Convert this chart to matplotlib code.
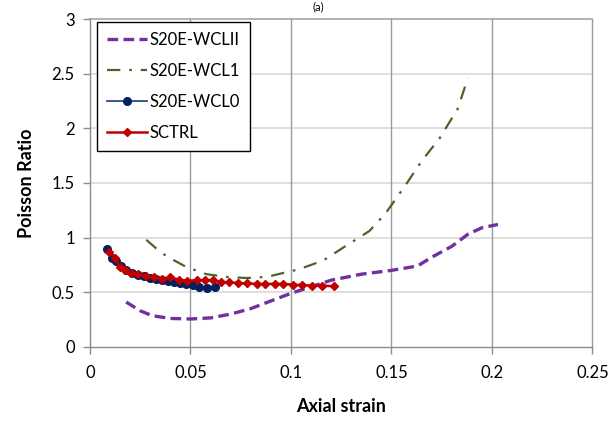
import matplotlib
matplotlib.use("Agg")
import matplotlib.pyplot as plt

plt.rcParams['font.family'] = ['Lato', 'DejaVu Sans']

wcl2_x = [0.018, 0.025, 0.031, 0.040, 0.050, 0.060, 0.070, 0.080, 0.090, 0.100, 0.110,
          0.120, 0.135, 0.150, 0.163, 0.170, 0.180, 0.188, 0.195, 0.203]
wcl2_y = [0.41, 0.33, 0.285, 0.26, 0.255, 0.265, 0.30, 0.35, 0.42, 0.49, 0.55,
          0.61, 0.665, 0.70, 0.74, 0.82, 0.92, 1.03, 1.09, 1.12]

wcl1_x = [0.028, 0.033, 0.038, 0.048, 0.058, 0.068, 0.078, 0.088, 0.097, 0.104, 0.110,
          0.116, 0.127, 0.139, 0.147, 0.157, 0.165, 0.174, 0.183, 0.188]
wcl1_y = [0.98, 0.90, 0.83, 0.73, 0.665, 0.64, 0.63, 0.64, 0.68, 0.71, 0.75,
          0.79, 0.92, 1.06, 1.22, 1.48, 1.70, 1.91, 2.18, 2.46]

wcl0_x = [0.0085, 0.011, 0.013, 0.0155, 0.018, 0.021, 0.024, 0.027, 0.030, 0.033,
          0.036, 0.039, 0.042, 0.045, 0.048, 0.051, 0.054, 0.058, 0.062]
wcl0_y = [0.90, 0.81, 0.79, 0.74, 0.70, 0.68, 0.66, 0.65, 0.63, 0.62,
          0.61, 0.60, 0.59, 0.585, 0.575, 0.565, 0.55, 0.54, 0.545]

ctrl_x = [0.0095, 0.0125, 0.015, 0.0175, 0.0205, 0.024, 0.028, 0.032, 0.036, 0.040,
          0.0445, 0.0485, 0.053, 0.057, 0.061, 0.065, 0.069, 0.0735, 0.078, 0.083,
          0.087, 0.092, 0.096, 0.101, 0.1055, 0.1105, 0.1155, 0.1215]
ctrl_y = [0.87, 0.81, 0.73, 0.70, 0.68, 0.665, 0.65, 0.635, 0.625, 0.635,
          0.615, 0.605, 0.61, 0.61, 0.61, 0.595, 0.59, 0.585, 0.58, 0.576,
          0.576, 0.576, 0.576, 0.57, 0.565, 0.56, 0.56, 0.555]

x_ticks = [0, 0.05, 0.1, 0.15, 0.2, 0.25]
x_labels = ['0', '0.05', '0.1', '0.15', '0.2', '0.25']
y_ticks = [0, 0.5, 1, 1.5, 2, 2.5, 3]
y_labels = ['0', '0.5', '1', '1.5', '2', '2.5', '3']

fig = plt.figure(figsize=(6.09, 4.23), dpi=100)
ax = fig.add_axes([0.1478, 0.180, 0.825, 0.775])

ax.plot(wcl2_x, wcl2_y, color='#7030A0', lw=2.4, dashes=(3.2, 1.6), label='S20E-WCLII', zorder=3)
ax.plot(wcl1_x, wcl1_y, color='#4F6228', lw=1.6, dashes=(6, 4, 1.2, 4), label='S20E-WCL1', zorder=3)
ax.plot(wcl0_x, wcl0_y, color='#2A4C8C', lw=1.3, marker='o', markersize=5.5,
        markerfacecolor='#002060', markeredgecolor='#002060', label='S20E-WCL0', zorder=4)
ax.plot(ctrl_x, ctrl_y, color='#C00000', lw=1.8, marker='D', markersize=4.5,
        markerfacecolor='#C00000', markeredgecolor='#C00000', label='SCTRL', zorder=5)

ax.set_xlim(0, 0.25)
ax.set_ylim(0, 3)
ax.set_xticks(x_ticks)
ax.set_xticklabels(x_labels)
ax.set_yticks(y_ticks)
ax.set_yticklabels(y_labels)

for y in y_ticks[1:-1]:
    ax.axhline(y, color='#d9d9d9', lw=1.2, zorder=1)
ax.axhline(3, color='#a6a6a6', lw=1.2, zorder=1, clip_on=False)
for x in x_ticks[1:]:
    ax.axvline(x, color='#9a9a9a', lw=1.0, zorder=1, clip_on=False)

for s in ['top', 'right']:
    ax.spines[s].set_visible(False)
for s in ['left', 'bottom']:
    ax.spines[s].set_color('#8c8c8c')
    ax.spines[s].set_linewidth(1.0)

ax.tick_params(axis='both', direction='out', length=5, color='#8c8c8c', width=1.0,
               labelsize=12, labelcolor='black', pad=6)
ax.tick_params(axis='x', pad=8)

ax.set_xlabel('Axial strain', fontsize=13, fontweight='bold', labelpad=12)
ax.set_ylabel('Poisson Ratio', fontsize=13, fontweight='bold', labelpad=12)

leg = ax.legend(loc='upper left', bbox_to_anchor=(0.013, 0.99), fontsize=12,
                frameon=True, fancybox=False, edgecolor='black', framealpha=1,
                handlelength=2.4, handletextpad=0.2, labelspacing=0.9,
                borderpad=0.6, borderaxespad=0)
leg.get_frame().set_linewidth(1.0)

fig.text(0.522, 0.998, '(a)', fontsize=8, ha='center', va='top')

fig.savefig('out.png', dpi=100)
